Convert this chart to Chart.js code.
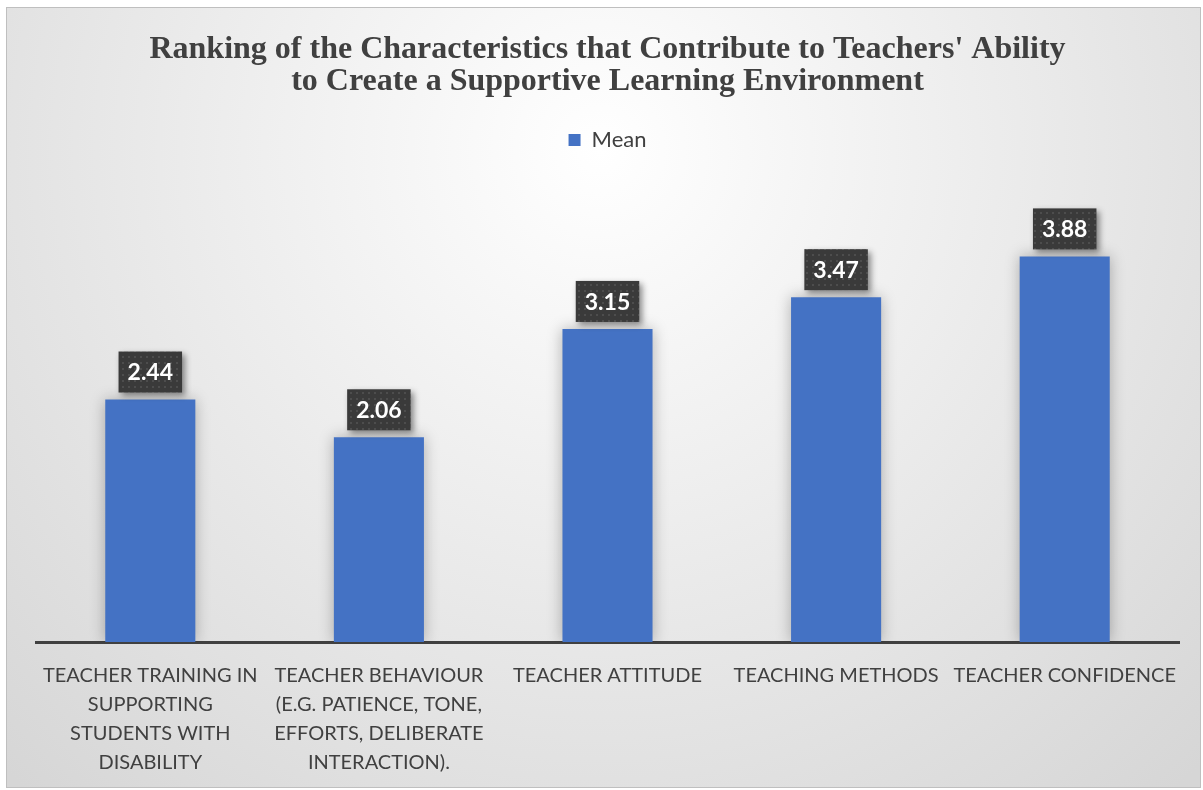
<!DOCTYPE html>
<html>
<head>
<meta charset="utf-8">
<title>Ranking de características</title>
<script src="https://cdn.jsdelivr.net/npm/chart.js@4"></script>
<style>
    html, body { margin: 0; padding: 0; background: #fff; }
    #contenedor { width: 1203px; height: 790px; }
</style>
</head>
<body>
<div id="contenedor">
    <canvas id="graficoRanking" width="1203" height="790"></canvas>
</div>
<script>
const categorias = [
    ["TEACHER TRAINING IN", "SUPPORTING", "STUDENTS WITH", "DISABILITY"],
    ["TEACHER BEHAVIOUR", "(E.G. PATIENCE, TONE,", "EFFORTS, DELIBERATE", "INTERACTION)."],
    "TEACHER ATTITUDE",
    "TEACHING METHODS",
    "TEACHER CONFIDENCE"
];
const medias = [2.44, 2.06, 3.15, 3.47, 3.88];
const titulo = [
    "Ranking of the Characteristics that Contribute to Teachers' Ability",
    "to Create a Supportive Learning Environment"
];
const etiquetaSerie = "Mean";

// Fondo con degradado radial y marco gris
const fondo = {
    id: "fondo",
    beforeDraw(chart) {
        const ctx = chart.ctx;
        ctx.save();
        ctx.fillStyle = "#fff";
        ctx.fillRect(0, 0, chart.width, chart.height);
        const g = ctx.createRadialGradient(600, 150, 0, 600, 150, 860);
        g.addColorStop(0, "#ffffff");
        g.addColorStop(1, "#d6d6d6");
        ctx.fillStyle = g;
        ctx.fillRect(6, 7, 1195, 781);
        ctx.strokeStyle = "#bfbfbf";
        ctx.lineWidth = 1;
        ctx.strokeRect(6.5, 7.5, 1194, 780);
        ctx.restore();
    }
};

// Trama punteada para las cajas de valores
function crearTrama(ctx) {
    const c = document.createElement("canvas");
    c.width = 6; c.height = 6;
    const t = c.getContext("2d");
    t.fillStyle = "#3a3a3a";
    t.fillRect(0, 0, 6, 6);
    t.fillStyle = "#4d4d4d";
    t.fillRect(2, 2, 2, 2);
    return ctx.createPattern(c, "repeat");
}

// Sombra de las barras + etiquetas de valor
const sombraYEtiquetas = {
    id: "sombraYEtiquetas",
    beforeDatasetsDraw(chart) {
        const ctx = chart.ctx;
        ctx.save();
        ctx.shadowColor = "rgba(0, 0, 0, 0.28)";
        ctx.shadowBlur = 14;
    },
    afterDatasetsDraw(chart) {
        const ctx = chart.ctx;
        ctx.restore();

        const meta = chart.getDatasetMeta(0);
        const trama = crearTrama(ctx);
        ctx.save();
        ctx.font = "bold 23px Lato";
        meta.data.forEach((barra, i) => {
            const texto = medias[i].toFixed(2);
            const ancho = ctx.measureText(texto).width + 18;
            const alto = 41;
            const x = barra.x - ancho / 2;
            const y = barra.y - 7 - alto;

            ctx.save();
            ctx.shadowColor = "rgba(0, 0, 0, 0.45)";
            ctx.shadowBlur = 6;
            ctx.shadowOffsetX = 3;
            ctx.shadowOffsetY = 3;
            ctx.fillStyle = trama;
            ctx.fillRect(x, y, ancho, alto);
            ctx.restore();

            ctx.fillStyle = "#ffffff";
            ctx.textAlign = "center";
            ctx.textBaseline = "middle";
            ctx.fillText(texto, barra.x, y + alto / 2 + 1);
        });
        ctx.restore();
    }
};

const ctx = document.getElementById("graficoRanking").getContext("2d");

new Chart(ctx, {
    type: "bar",
    data: {
        labels: categorias,
        datasets: [{
            label: etiquetaSerie,
            data: medias,
            backgroundColor: "#4472c4",
            borderWidth: 0,
            categoryPercentage: 1,
            barPercentage: 0.394
        }]
    },
    options: {
        responsive: false,
        animation: false,
        layout: {
            padding: { top: 0, left: 36, right: 24, bottom: 0 }
        },
        plugins: {
            title: {
                display: true,
                text: titulo,
                color: "#404040",
                font: { family: "Liberation Serif", size: 32, weight: "bold", lineHeight: 1.0 },
                padding: { top: 34, bottom: 21 }
            },
            legend: {
                display: true,
                labels: {
                    color: "#404040",
                    font: { family: "Lato", size: 22 },
                    boxWidth: 12,
                    boxHeight: 12,
                    padding: 10
                }
            },
            tooltip: { enabled: false }
        },
        scales: {
            x: {
                grid: { display: false, drawTicks: false },
                border: { display: true, color: "#404040", width: 3 },
                ticks: {
                    color: "#404040",
                    font: { family: "Lato", size: 20, lineHeight: 1.45 },
                    maxRotation: 0,
                    autoSkip: false,
                    padding: 19
                },
                afterFit(escala) {
                    escala.height = 148;
                }
            },
            y: {
                display: false,
                min: 0,
                max: 4.84
            }
        }
    },
    plugins: [fondo, sombraYEtiquetas]
});
</script>
</body>
</html>
